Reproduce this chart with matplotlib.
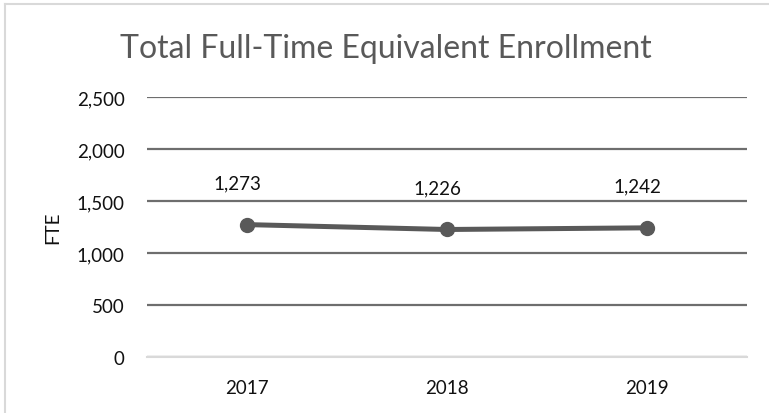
import matplotlib
matplotlib.use("Agg")
import matplotlib.pyplot as plt
from matplotlib.lines import Line2D
from matplotlib.ticker import FuncFormatter

years = ["2017", "2018", "2019"]
fte = [1273, 1226, 1242]
yticks = [0, 500, 1000, 1500, 2000, 2500]

plt.rcParams['font.family'] = ['Lato', 'DejaVu Sans']

W, H = 769, 414
fig = plt.figure(figsize=(W / 100, H / 100), dpi=100)
fig.patch.set_facecolor("white")

# outer chart border (only top and left visible in the crop)
fig.add_artist(Line2D([5 / W, 5 / W], [0, 1 - 5 / H], transform=fig.transFigure,
                      color="#d9d9d9", linewidth=1.5))
fig.add_artist(Line2D([5 / W, 1], [1 - 5 / H, 1 - 5 / H], transform=fig.transFigure,
                      color="#d9d9d9", linewidth=1.5))

ax = fig.add_axes([147 / W, 1 - 358 / H, 600 / W, (358 - 98) / H])
x = list(range(len(years)))
ax.plot(x, fte, color="#595959", linewidth=3.6, marker="o", markersize=10,
        solid_capstyle="round", zorder=3)
for xi, v in zip(x, fte):
    ax.annotate(f"{v:,}", (xi, v), xytext=(-7, 24), textcoords="offset points",
                ha="center", va="bottom", fontsize=13.5, color="#111111")

ax.set_xlim(-0.5, len(years) - 0.5)
ax.set_ylim(0, 2500)
ax.set_yticks(yticks)
ax.yaxis.set_major_formatter(FuncFormatter(lambda v, p: f"{int(v):,}"))
ax.set_xticks(x)
ax.set_xticklabels(years)
ax.tick_params(axis="both", length=0, labelsize=13.5, labelcolor="#111111")
ax.tick_params(axis="y", pad=16)
ax.tick_params(axis="x", pad=16)
ax.grid(axis="y", color="#6e6e6e", linewidth=1.6)
ax.set_axisbelow(True)
for s in ["top", "left", "right"]:
    ax.spines[s].set_visible(False)
ax.spines["bottom"].set_color("#d9d9d9")
ax.spines["bottom"].set_linewidth(1.5)
ax.spines["bottom"].set_zorder(2.5)

fig.text(53 / W, 1 - 228 / H, "FTE", rotation=90, ha="center", va="center",
         fontsize=13.5, color="#111111")
fig.text(386 / W, 1 - 58 / H, "Total Full-Time Equivalent Enrollment",
         ha="center", va="baseline", fontsize=23, color="#595959")

fig.savefig("out.png", dpi=100, facecolor="white")
